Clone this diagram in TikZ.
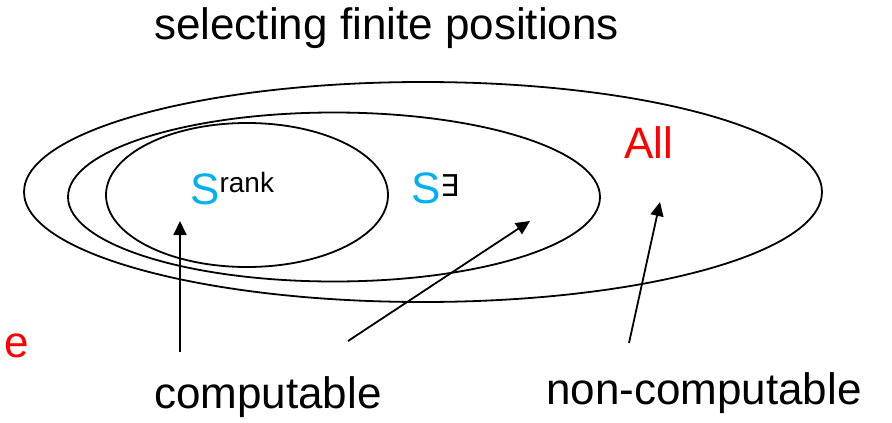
\documentclass[tikz,border=0pt]{standalone}
\usepackage{fontspec}
\setmainfont{Liberation Sans}
\newfontfamily\symfont{DejaVu Sans}
\usetikzlibrary{arrows.meta,shapes.geometric}
\definecolor{setblue}{HTML}{00B0F0}
\tikzset{
  lbl/.style={inner sep=0pt, anchor=base west, font=\fontsize{44}{50}\selectfont},
  setring/.style={draw, ellipse, inner sep=0pt, line width=1.8pt},
  pointer/.style={-{Triangle[length=14pt, width=13pt]}, line width=1.8pt}
}
\newcommand{\supsm}[2]{\raisebox{#1}{\fontsize{28}{32}\selectfont #2}}

\begin{document}
\begin{tikzpicture}[x=1pt, y=-1pt]
\useasboundingbox (0,0) rectangle (892,423);
\node[setring, minimum width=798pt, minimum height=220pt] (allset) at (423,192) {};
\node[setring, minimum width=532pt, minimum height=169pt] (existset) at (334,197) {};
\node[setring, minimum width=282pt, minimum height=144pt] (rankset) at (247,195) {};
\node[lbl] (title) at (154,39) {selecting finite positions};
\node[lbl, red] (elbl) at (4,357) {e};
\node[lbl, red] (alllbl) at (624,158) {All};
\node[lbl] (ranklbl) at (190,204) {\textcolor{setblue}{S}\supsm{12pt}{rank}};
\node[lbl] (existlbl) at (411,203) {\textcolor{setblue}{S}\supsm{7pt}{\symfont\fontsize{30}{32}\selectfont ∃}};
\node[lbl] (comp) at (154,408) {computable};
\node[lbl] (noncomp) at (546,404) {non-computable};
\coordinate (c1) at (180,352);
\coordinate (c2) at (348,341);
\coordinate (n1) at (629,343);
\coordinate (t1) at (180,221);
\coordinate (t2) at (530,221);
\coordinate (t3) at (660,202);
\draw[pointer] (c1) -- (t1);
\draw[pointer] (c2) -- (t2);
\draw[pointer] (n1) -- (t3);
\end{tikzpicture}
\end{document}
